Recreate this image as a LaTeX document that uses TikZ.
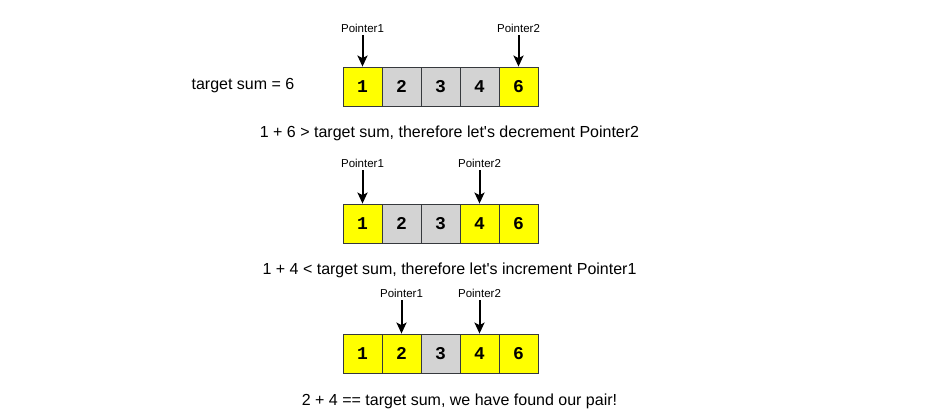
\documentclass[tikz,border=0pt]{standalone}
\usepackage{fontspec}
\setmainfont{Liberation Sans}
\newfontfamily\boxfont{Liberation Mono}
\usetikzlibrary{arrows.meta}
\definecolor{yel}{HTML}{FFFF00}
\definecolor{gry}{HTML}{D3D3D3}
\definecolor{edge}{HTML}{36393D}
\begin{document}
\begin{tikzpicture}[x=1pt,y=-1pt,
  cell/.style={draw=edge,line width=0.8pt,minimum width=39pt,minimum height=39pt,inner sep=0pt,font=\boxfont\bfseries\fontsize{18}{18}\selectfont},
  ycell/.style={cell,fill=yel},
  gcell/.style={cell,fill=gry},
  plabel/.style={font=\fontsize{11.5}{13}\selectfont,inner sep=0pt},
  ptr/.style={line width=2pt,-{Stealth[length=11pt,width=10pt,inset=2.5pt]}},
  txt/.style={font=\fontsize{16}{18}\selectfont,inner sep=0pt}]
\useasboundingbox (0,0) rectangle (931,419);
% row 1
\node[ycell] (a1) at (362.5,86.5) {1};
\node[gcell] (a2) at (401.5,86.5) {2};
\node[gcell] (a3) at (440.5,86.5) {3};
\node[gcell] (a4) at (479.5,86.5) {4};
\node[ycell] (a5) at (518.5,86.5) {6};
\node[txt] (ts) at (243,86) {target sum = 6};
\node[plabel] (p1a) at (362.5,28) {Pointer1};
\node[plabel] (p2a) at (518.5,28) {Pointer2};
\draw[ptr] ([yshift=-3pt]p1a.south) -- (a1.north);
\draw[ptr] ([yshift=-3pt]p2a.south) -- (a5.north);
\node[txt] (t1) at (449.5,133) {1 + 6 > target sum, therefore let\textquotesingle s decrement Pointer2};
% row 2
\node[ycell] (b1) at (362.5,223.5) {1};
\node[gcell] (b2) at (401.5,223.5) {2};
\node[gcell] (b3) at (440.5,223.5) {3};
\node[ycell] (b4) at (479.5,223.5) {4};
\node[ycell] (b5) at (518.5,223.5) {6};
\node[plabel] (p1b) at (362.5,163) {Pointer1};
\node[plabel] (p2b) at (479.5,163) {Pointer2};
\draw[ptr] ([yshift=-3pt]p1b.south) -- (b1.north);
\draw[ptr] ([yshift=-3pt]p2b.south) -- (b4.north);
\node[txt] (t2) at (449.5,270) {1 + 4 < target sum, therefore let\textquotesingle s increment Pointer1};
% row 3
\node[ycell] (c1) at (362.5,353.5) {1};
\node[ycell] (c2) at (401.5,353.5) {2};
\node[gcell] (c3) at (440.5,353.5) {3};
\node[ycell] (c4) at (479.5,353.5) {4};
\node[ycell] (c5) at (518.5,353.5) {6};
\node[plabel] (p1c) at (401.5,293) {Pointer1};
\node[plabel] (p2c) at (479.5,293) {Pointer2};
\draw[ptr] ([yshift=-3pt]p1c.south) -- (c2.north);
\draw[ptr] ([yshift=-3pt]p2c.south) -- (c4.north);
\node[txt] (t3) at (459.5,401) {2 + 4 == target sum, we have found our pair!};
\end{tikzpicture}
\end{document}
